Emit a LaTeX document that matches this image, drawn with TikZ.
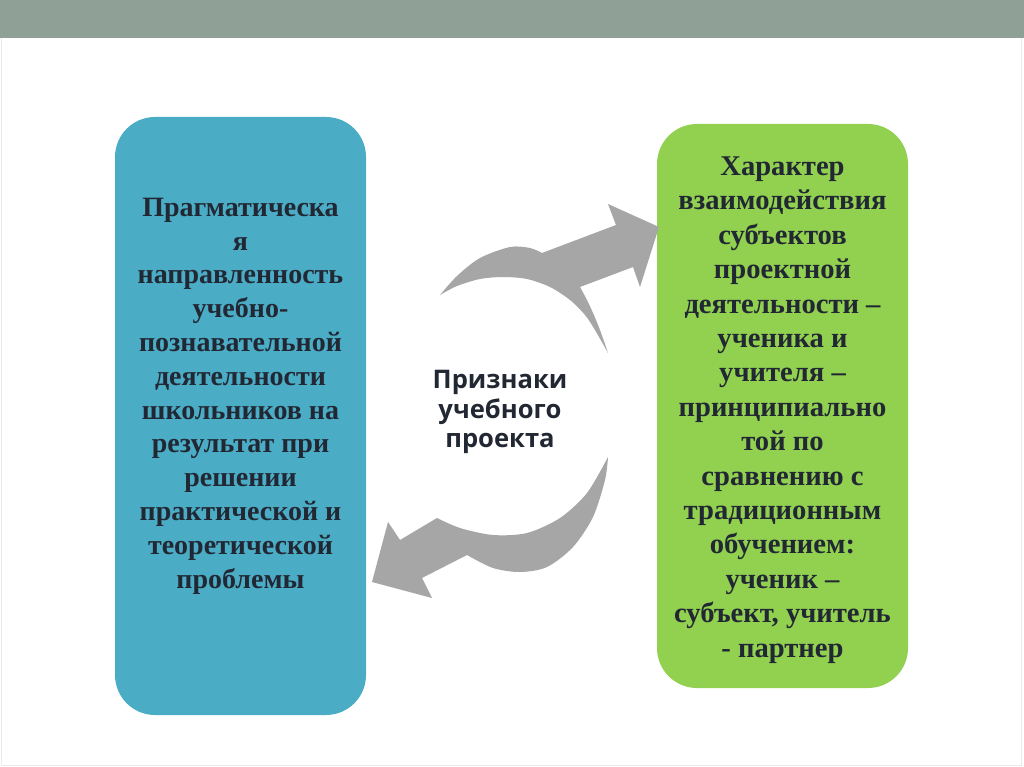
\documentclass[tikz,border=0pt]{standalone}
\usepackage{fontspec}
\newfontfamily\boxfont{Liberation Serif}
\newfontfamily\midfont{Open Sans}
\definecolor{barcol}{HTML}{8FA097}
\definecolor{bluebox}{HTML}{4BACC6}
\definecolor{greenbox}{HTML}{92D050}
\definecolor{arrowgray}{HTML}{A6A6A6}
\definecolor{txtdark}{HTML}{222833}
\definecolor{framegray}{HTML}{EBEBEB}
\begin{document}
\begin{tikzpicture}[x=1pt,y=-1pt,
  panel/.style={rounded corners=40pt},
  boxtext/.style={align=center,text=txtdark,inner sep=0pt},
  curl/.style={fill=arrowgray}]
\useasboundingbox (0,0) rectangle (1024,767);
\fill[white] (0,0) rectangle (1024,767);
\draw[framegray,line width=0.8pt] (1,0) -- (1,765) -- (1021,765) -- (1021,0);
\fill[barcol] (0,0) rectangle (1024,38.5);
% panels
\fill[bluebox,panel] (115,117) rectangle (366,715);
\fill[greenbox,panel] (657,124) rectangle (908,688);
% upper curved arrow
\fill[curl] plot[smooth] coordinates {(440,295) (457,276) (480,258) (510,247) (530,248) (542,253)}
  -- (616,225) -- (608,204) -- (659,227) -- (640,287) -- (633,267) -- (580,287)
  -- plot[smooth] coordinates {(580,287) (587,300) (593,313) (600,330) (608,353)}
  -- plot[smooth] coordinates {(608,353) (595,330) (585,315) (570,300) (550,287) (527,279) (503,277) (480,279) (457,286) (440,295)}
  -- cycle;
% lower curved arrow
\fill[curl] plot[smooth] coordinates {(608,457) (587,493) (560,518) (527,533) (493,535) (460,528) (437,518)}
  -- (400,540) -- (388,522) -- (372,582) -- (432,598) -- (422,578) -- (467,555)
  -- plot[smooth] coordinates {(467,555) (493,568) (520,572) (547,567) (573,547) (593,517) (605,480) (608,457)}
  -- cycle;
% texts
\node[boxtext,font=\boxfont\bfseries\fontsize{28}{33.8}\selectfont] (lefttext) at (240.5,396)
  {Прагматическа\\я\\направленность\\учебно-\\познавательной\\деятельности\\школьников на\\результат при\\решении\\практической и\\теоретической\\проблемы};
\node[boxtext,font=\boxfont\bfseries\fontsize{28.6}{34.4}\selectfont] (righttext) at (782.5,410)
  {Характер\\взаимодействия\\субъектов\\проектной\\деятельности –\\ученика и\\учителя –\\принципиально\\той по\\сравнению с\\традиционным\\обучением:\\ученик –\\субъект, учитель\\- партнер};
\node[boxtext,font=\midfont\bfseries\fontsize{25.6}{29.8}\selectfont] (midtext) at (500,412)
  {Признаки\\учебного\\проекта};
\end{tikzpicture}
\end{document}
